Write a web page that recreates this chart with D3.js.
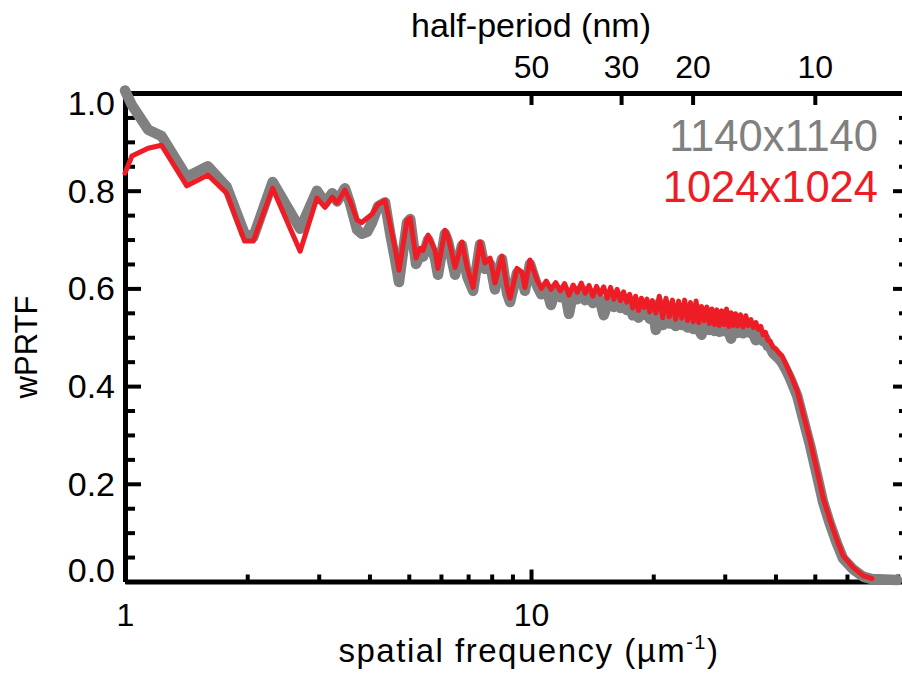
<!DOCTYPE html>
<html>
<head>
<meta charset="utf-8">
<script src="https://cdn.jsdelivr.net/npm/d3@7"></script>
<style>
  body { margin: 0; background: #fff; }
  svg text { font-family: 'Liberation Sans', Arial, Helvetica, sans-serif; }
</style>
</head>
<body>
<div class="canvas"></div>
<script>
// spatial frequency (1/um)
const freq = [
  1.00, 1.04, 1.14, 1.23, 1.42, 1.60, 1.78, 1.97, 2.07, 2.31,
  2.70, 2.97, 3.11, 3.24, 3.33, 3.48, 3.58, 3.73, 3.83, 3.95,
  4.06, 4.20, 4.37, 4.50, 4.62, 4.73, 4.95, 5.04, 5.21, 5.33,
  5.42, 5.58, 5.80, 5.90, 6.14, 6.25, 6.50, 6.76, 6.96, 7.20,
  7.49, 7.70, 7.93, 8.15, 8.48, 8.73, 8.88, 9.24, 9.50, 9.66,
  9.94, 10.35,
  10.6, 10.9, 11.2, 11.5, 11.8, 12.1, 12.4, 12.7, 13.0, 13.3,
  13.6, 13.9, 14.2, 14.5, 14.8, 15.1, 15.4, 15.7, 16.0, 16.3,
  16.6, 16.9, 17.2, 17.5, 17.8, 18.1, 18.4, 18.7, 19.0, 19.3,
  19.6, 19.9, 20.3, 20.7, 21.1, 21.5, 21.9, 22.3, 22.7, 23.1,
  23.5, 23.9, 24.3, 24.7, 25.1, 25.5, 25.9, 26.3, 26.7, 27.1,
  27.5, 27.9, 28.3, 28.7, 29.1, 29.5, 29.9, 30.3, 30.7, 31.1,
  31.5, 31.9, 32.3, 32.8, 33.3, 33.8, 34.3, 34.8, 35.3, 35.8,
  36.3, 36.8, 37.3, 37.8, 38.3, 38.8, 39.4,
  40.1, 40.8, 41.5, 42.3, 43.45, 45.22, 46.77, 48.67, 50.64, 52.39,
  54.52, 56.73, 58.69, 62.11, 65.73, 69.18, 74.44, 79.69
]

// wPRTF, 1140x1140 reconstruction (gray)
const wprtf1140 = [
  1.005, 0.975, 0.925, 0.912, 0.828, 0.850, 0.808, 0.712, 0.705, 0.818,
  0.722, 0.800, 0.775, 0.795, 0.778, 0.805, 0.775, 0.720, 0.712, 0.716,
  0.735, 0.768, 0.776, 0.712, 0.662, 0.613, 0.735, 0.742, 0.650, 0.668,
  0.665, 0.700, 0.662, 0.628, 0.712, 0.695, 0.628, 0.688, 0.625, 0.595,
  0.690, 0.640, 0.650, 0.598, 0.660, 0.590, 0.572, 0.632, 0.622, 0.595,
  0.650, 0.605,
  0.588, 0.600, 0.566, 0.598, 0.582, 0.596, 0.548, 0.592, 0.578, 0.598,
  0.576, 0.592, 0.570, 0.590, 0.574, 0.545, 0.566, 0.588, 0.562, 0.585,
  0.560, 0.580, 0.556, 0.575, 0.545, 0.570, 0.540, 0.568, 0.546, 0.565,
  0.538, 0.562, 0.515, 0.570, 0.525, 0.566, 0.528, 0.561, 0.523, 0.560,
  0.525, 0.561, 0.520, 0.557, 0.517, 0.559, 0.515, 0.505, 0.521, 0.548,
  0.515, 0.545, 0.513, 0.543, 0.511, 0.540, 0.513, 0.545, 0.509, 0.497,
  0.511, 0.535, 0.509, 0.534, 0.508, 0.531, 0.510, 0.522, 0.505, 0.494,
  0.502, 0.508, 0.492, 0.497, 0.482, 0.480, 0.468,
  0.462, 0.456, 0.448, 0.436, 0.416, 0.381, 0.334, 0.279, 0.217, 0.163,
  0.117, 0.077, 0.047, 0.025, 0.010, 0.005, 0.004, 0.003
]

// wPRTF, 1024x1024 reconstruction (red)
const wprtf1024 = [
  0.836, 0.871, 0.887, 0.893, 0.810, 0.832, 0.795, 0.697, 0.697, 0.805,
  0.676, 0.785, 0.766, 0.787, 0.775, 0.801, 0.780, 0.740, 0.735, 0.744,
  0.752, 0.772, 0.780, 0.730, 0.684, 0.637, 0.740, 0.744, 0.662, 0.682,
  0.678, 0.709, 0.678, 0.641, 0.719, 0.705, 0.643, 0.695, 0.643, 0.602,
  0.695, 0.652, 0.662, 0.611, 0.666, 0.602, 0.580, 0.641, 0.633, 0.602,
  0.658, 0.617,
  0.600, 0.615, 0.598, 0.612, 0.595, 0.610, 0.586, 0.607, 0.592, 0.611,
  0.590, 0.606, 0.584, 0.604, 0.588, 0.603, 0.580, 0.602, 0.578, 0.598,
  0.575, 0.593, 0.572, 0.588, 0.560, 0.584, 0.555, 0.580, 0.561, 0.578,
  0.552, 0.575, 0.550, 0.584, 0.540, 0.580, 0.542, 0.576, 0.537, 0.574,
  0.539, 0.576, 0.534, 0.571, 0.532, 0.574, 0.530, 0.563, 0.534, 0.562,
  0.528, 0.558, 0.526, 0.556, 0.524, 0.554, 0.526, 0.558, 0.522, 0.550,
  0.524, 0.548, 0.523, 0.546, 0.521, 0.544, 0.524, 0.536, 0.520, 0.530,
  0.516, 0.522, 0.505, 0.510, 0.494, 0.492, 0.480,
  0.476, 0.468, 0.462, 0.448, 0.426, 0.391, 0.344, 0.289, 0.227, 0.172,
  0.125, 0.084, 0.053, 0.029, 0.012, 0.006, null, null
]

const halfPeriodTicks = [50, 30, 20, 10]
const xMajorTicks = [1, 10]
const xMinorTicks = [2, 3, 4, 5, 6, 7, 8, 9, 20, 30, 40, 50, 60, 70, 80]
const yMajorTicks = [0, 0.2, 0.4, 0.6, 0.8, 1.0]
const yMinorTicks = [0.05, 0.1, 0.15, 0.25, 0.3, 0.35, 0.45, 0.5, 0.55, 0.65, 0.7, 0.75, 0.85, 0.9, 0.95]
const seriesNames = ['1140x1140', '1024x1024']

const gray = '#808080'
const red = '#ee1d25'
const font = "'Liberation Sans', Arial, Helvetica, sans-serif"

const plot = {left: 125, right: 909, top: 93, bottom: 581.5}

const x = d3.scaleLog().domain([1, 85.3]).range([plot.left, plot.right])
const y = d3.scaleLinear().domain([0, 1]).range([plot.bottom, plot.top])

const svg = d3.select('.canvas')
  .append('svg')
  .attr('width', 902)
  .attr('height', 673)

const styleAxis = (g, width, tickWidth, size = 32) => {
  g.select('.domain').attr('stroke', '#000').attr('stroke-width', width)
  g.selectAll('.tick line').attr('stroke', '#000').attr('stroke-width', tickWidth)
  g.selectAll('text').attr('font-family', font).attr('font-size', size).attr('fill', '#000')
}

// left
const yAxis = svg.append('g').attr('transform', `translate(${plot.left},0)`)
  .call(d3.axisLeft(y).tickValues(yMajorTicks).tickSizeInner(-16).tickSizeOuter(0)
    .tickPadding(10).tickFormat(d3.format('.1f')))
styleAxis(yAxis, 5, 4, 34)
yAxis.selectAll('text').attr('dy', d => d === 1 ? '0.62em' : d === 0 ? '0em' : '0.34em')
svg.append('g').attr('transform', `translate(${plot.left},0)`)
  .call(d3.axisLeft(y).tickValues(yMinorTicks).tickSizeInner(-10).tickSizeOuter(0).tickFormat(''))
  .call(g => styleAxis(g, 0, 4))

// right
svg.append('g').attr('transform', `translate(${plot.right},0)`)
  .call(d3.axisRight(y).tickValues(yMajorTicks).tickSizeInner(-16).tickSizeOuter(0).tickFormat(''))
  .call(g => styleAxis(g, 5, 4))
svg.append('g').attr('transform', `translate(${plot.right},0)`)
  .call(d3.axisRight(y).tickValues(yMinorTicks).tickSizeInner(-10).tickSizeOuter(0).tickFormat(''))
  .call(g => styleAxis(g, 0, 4))

// bottom
svg.append('g').attr('transform', `translate(0,${plot.bottom})`)
  .call(d3.axisBottom(x).tickValues(xMajorTicks).tickSizeInner(-12).tickSizeOuter(0)
    .tickPadding(22).tickFormat(d3.format('d')))
  .call(g => styleAxis(g, 5, 4))
svg.append('g').attr('transform', `translate(0,${plot.bottom})`)
  .call(d3.axisBottom(x).tickValues(xMinorTicks).tickSizeInner(-7).tickSizeOuter(0).tickFormat(''))
  .call(g => styleAxis(g, 0, 4))

// top: half-period in nm
svg.append('g').attr('transform', `translate(0,${plot.top})`)
  .call(d3.axisTop(x).tickValues(halfPeriodTicks.map(h => 1000 / (2 * h)))
    .tickSizeInner(-12).tickSizeOuter(0).tickPadding(15)
    .tickFormat((d, i) => halfPeriodTicks[i]))
  .call(g => styleAxis(g, 5, 4))

// curves
const data1140 = freq.map((f, i) => [f, wprtf1140[i]])
const data1024 = freq.map((f, i) => [f, wprtf1024[i]])
const line = d3.line()
  .defined(d => d[1] != null)
  .x(d => x(d[0]))
  .y(d => y(d[1]))

svg.append('path').datum(data1140)
  .attr('d', line)
  .attr('fill', 'none')
  .attr('stroke', gray)
  .attr('stroke-width', 10.5)
  .attr('stroke-linejoin', 'round')
  .attr('stroke-linecap', 'round')

svg.append('path').datum(data1024)
  .attr('d', line)
  .attr('fill', 'none')
  .attr('stroke', red)
  .attr('stroke-width', 5)
  .attr('stroke-linejoin', 'round')
  .attr('stroke-linecap', 'round')

// legend
svg.selectAll('.legend')
  .data(seriesNames)
  .enter().append('text')
  .attr('class', 'legend')
  .attr('x', 878)
  .attr('y', (d, i) => 151 + i * 51)
  .attr('text-anchor', 'end')
  .attr('font-size', 43.5)
  .attr('fill', (d, i) => i === 0 ? gray : red)
  .text(d => d)

// titles
svg.append('text')
  .attr('x', 531).attr('y', 37)
  .attr('text-anchor', 'middle')
  .attr('font-size', 34)
  .text('half-period (nm)')

const xTitle = svg.append('text')
  .attr('x', 529).attr('y', 662)
  .attr('text-anchor', 'middle')
  .attr('font-size', 33)
  .attr('letter-spacing', 1.5)
xTitle.append('tspan').text('spatial frequency (\u00b5m')
xTitle.append('tspan').attr('font-size', 20).attr('dy', -13).text('-1')
xTitle.append('tspan').attr('dy', 13).text(')')

svg.append('text')
  .attr('transform', 'translate(37,347) rotate(-90)')
  .attr('text-anchor', 'middle')
  .attr('font-size', 31)
  .text('wPRTF')
</script>
</body>
</html>
